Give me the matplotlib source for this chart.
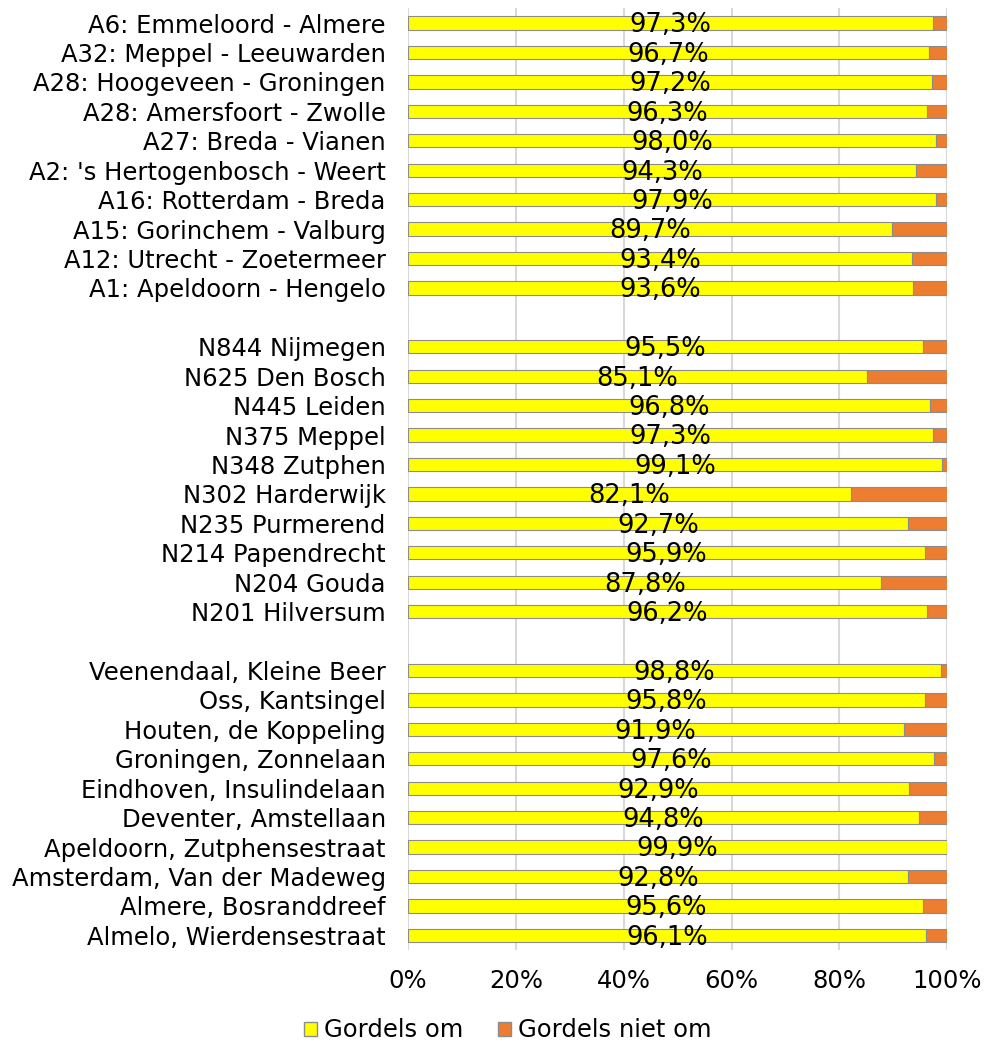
import matplotlib.pyplot as plt
import numpy as np

plt.rcParams['font.family'] = ['DejaVu Sans']

# categories top to bottom, None = gap between groups
labels = ["A6: Emmeloord - Almere", "A32: Meppel - Leeuwarden", "A28: Hoogeveen - Groningen",
          "A28: Amersfoort - Zwolle", "A27: Breda - Vianen", "A2: 's Hertogenbosch - Weert",
          "A16: Rotterdam - Breda", "A15: Gorinchem - Valburg", "A12: Utrecht - Zoetermeer",
          "A1: Apeldoorn - Hengelo", None,
          "N844 Nijmegen", "N625 Den Bosch", "N445 Leiden", "N375 Meppel", "N348 Zutphen",
          "N302 Harderwijk", "N235 Purmerend", "N214 Papendrecht", "N204 Gouda", "N201 Hilversum", None,
          "Veenendaal, Kleine Beer", "Oss, Kantsingel", "Houten, de Koppeling", "Groningen, Zonnelaan",
          "Eindhoven, Insulindelaan", "Deventer, Amstellaan", "Apeldoorn, Zutphensestraat",
          "Amsterdam, Van der Madeweg", "Almere, Bosranddreef", "Almelo, Wierdensestraat"]
gordels_om = [97.3, 96.7, 97.2, 96.3, 98.0, 94.3, 97.9, 89.7, 93.4, 93.6, None,
              95.5, 85.1, 96.8, 97.3, 99.1, 82.1, 92.7, 95.9, 87.8, 96.2, None,
              98.8, 95.8, 91.9, 97.6, 92.9, 94.8, 99.9, 92.8, 95.6, 96.1]

yellow = '#FFFF00'
orange = '#ED7D31'

fig = plt.figure(figsize=(9.84, 10.44), dpi=100)
ax = fig.add_axes([0.4146, 0.09, 0.548, 0.902])

ypos = np.arange(len(labels))
for y, lab, v in zip(ypos, labels, gordels_om):
    if v is None:
        continue
    ax.barh(y, v, height=0.45, color=yellow, edgecolor='#8c8c8c', linewidth=0.8, zorder=3)
    ax.barh(y, 100 - v, left=v, height=0.45, color=orange, edgecolor='#8c8c8c', linewidth=0.8, zorder=3)
    ax.text(v / 2, y + 0.08, f"{v:.1f}%".replace('.', ','), ha='center', va='center',
            fontsize=18.5, zorder=4)

ax.set_yticks([y for y, l in zip(ypos, labels) if l is not None])
ax.set_yticklabels([l for l in labels if l is not None], fontsize=17.5)
ax.set_ylim(len(labels) - 0.5, -0.5)
ax.set_xlim(0, 100)
ax.set_xticks(np.arange(0, 101, 20))
ax.set_xticklabels([f"{t}%" for t in range(0, 101, 20)], fontsize=17.5)
ax.tick_params(length=0)
ax.tick_params(axis='y', pad=16)
ax.tick_params(axis='x', pad=14)
ax.grid(axis='x', color='#d9d9d9', linewidth=1.5, zorder=0)
for s in ax.spines.values():
    s.set_visible(False)

handles = [plt.Rectangle((0, 0), 1, 1, facecolor=yellow, edgecolor='#8c8c8c'),
           plt.Rectangle((0, 0), 1, 1, facecolor=orange, edgecolor='#8c8c8c')]
fig.legend(handles, ["Gordels om", "Gordels niet om"], loc='center', bbox_to_anchor=(0.516, 0.013),
           ncol=2, frameon=False, fontsize=17.5, handlelength=0.55, handleheight=0.55,
           handletextpad=0.3, columnspacing=1.4)

fig.savefig('out.png', dpi=100)
